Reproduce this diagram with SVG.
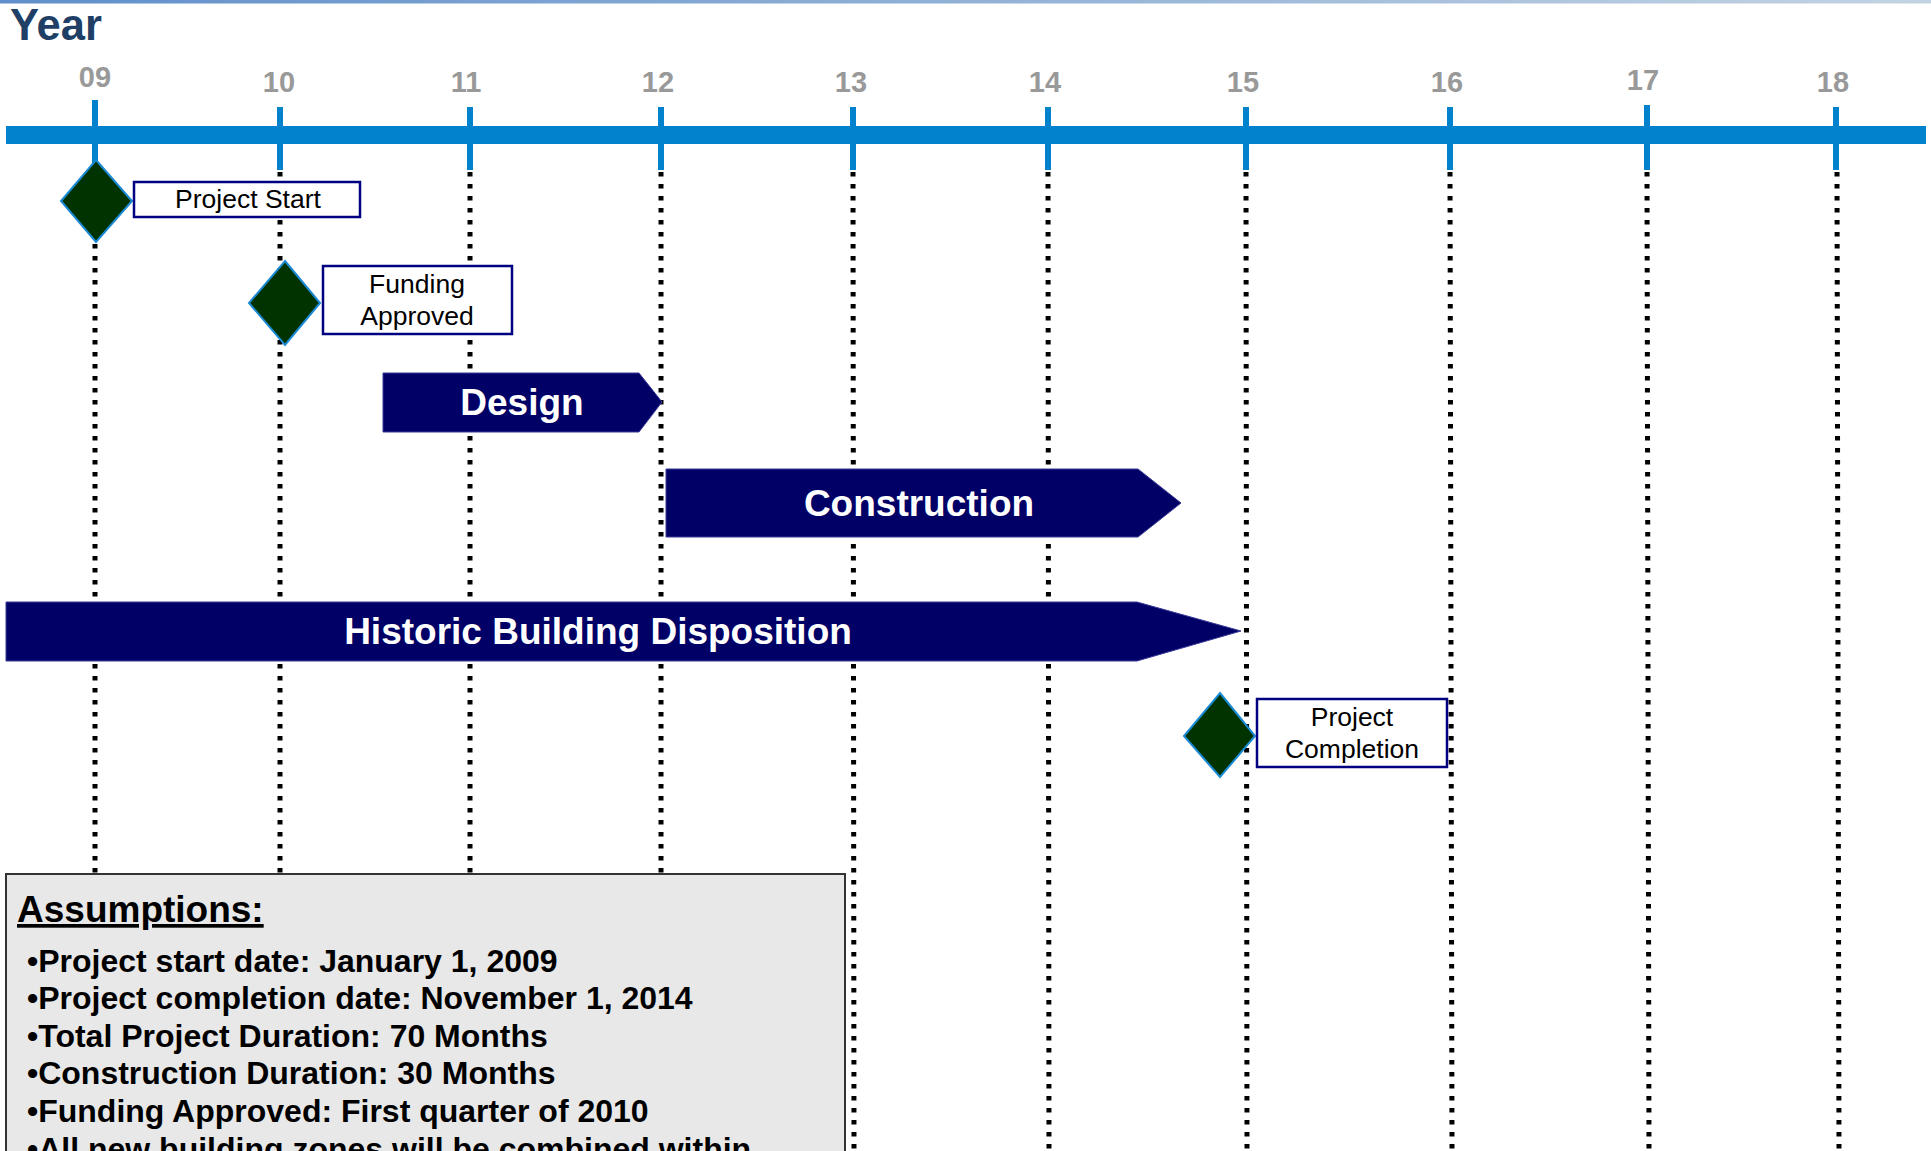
<svg xmlns="http://www.w3.org/2000/svg" width="1931" height="1151" viewBox="0 0 1931 1151">
<defs>
<linearGradient id="topbar" x1="0" y1="0" x2="1" y2="0">
<stop offset="0" stop-color="#5f8fca"/>
<stop offset="1" stop-color="#c3d3e3"/>
</linearGradient>
</defs>
<style>
.grid{stroke:#000;stroke-width:5;stroke-dasharray:4.5 7.5;fill:none}
.tick{stroke:#0281CD;stroke-width:6}
.yr{font-family:"Liberation Sans",Arial,sans-serif;font-weight:bold;font-size:29px;fill:#999999;text-anchor:middle}
.dia{fill:#003300;stroke:#1a8ad4;stroke-width:2}
.lbox{fill:#fff;stroke:#000080;stroke-width:2.5}
.ltxt{font-family:"Liberation Sans",Arial,sans-serif;font-size:26.5px;fill:#000;text-anchor:middle}
.arr{fill:#000066;stroke:#3a3a9a;stroke-width:1}
.atxt{font-family:"Liberation Sans",Arial,sans-serif;font-weight:bold;font-size:37px;fill:#fff;text-anchor:middle}
.asm{font-family:"Liberation Sans",Arial,sans-serif;font-weight:bold;font-size:32px;fill:#000}
</style>
<rect x="0" y="0" width="1931" height="3.5" fill="url(#topbar)"/>
<text x="10" y="40" font-family="Liberation Sans, Arial, sans-serif" font-weight="bold" font-size="43.5" fill="#1F3F66">Year</text>
<g id="gridlines">
<line class="grid" x1="95" y1="172" x2="95" y2="1151"/>
<line class="grid" x1="280" y1="172" x2="280" y2="1151"/>
<line class="grid" x1="470" y1="172" x2="470" y2="1151"/>
<line class="grid" x1="661" y1="172" x2="661" y2="1151"/>
<line class="grid" x1="853" y1="172" x2="854" y2="1151"/>
<line class="grid" x1="1048" y1="172" x2="1049" y2="1151"/>
<line class="grid" x1="1246" y1="172" x2="1247" y2="1151"/>
<line class="grid" x1="1450" y1="172" x2="1452" y2="1151"/>
<line class="grid" x1="1647" y1="172" x2="1649" y2="1151"/>
<line class="grid" x1="1837" y1="172" x2="1839" y2="1151"/>
</g>
<g id="axis">
<rect x="6" y="126" width="1920" height="18" fill="#0281CD"/>
<line class="tick" x1="95" y1="100" x2="95" y2="170"/>
<line class="tick" x1="280" y1="107" x2="280" y2="170"/>
<line class="tick" x1="470" y1="107" x2="470" y2="170"/>
<line class="tick" x1="661" y1="107" x2="661" y2="170"/>
<line class="tick" x1="853" y1="107" x2="853" y2="170"/>
<line class="tick" x1="1048" y1="107" x2="1048" y2="170"/>
<line class="tick" x1="1246" y1="107" x2="1246" y2="170"/>
<line class="tick" x1="1450" y1="107" x2="1450" y2="170"/>
<line class="tick" x1="1647" y1="105" x2="1647" y2="170"/>
<line class="tick" x1="1836" y1="107" x2="1836" y2="170"/>
<text class="yr" x="95" y="87">09</text>
<text class="yr" x="279" y="92">10</text>
<text class="yr" x="466" y="92">11</text>
<text class="yr" x="658" y="92">12</text>
<text class="yr" x="851" y="92">13</text>
<text class="yr" x="1045" y="92">14</text>
<text class="yr" x="1243" y="92">15</text>
<text class="yr" x="1447" y="92">16</text>
<text class="yr" x="1643" y="90">17</text>
<text class="yr" x="1833" y="92">18</text>
</g>
<g id="design">
<polygon class="arr" points="383,373 639,373 662,402 639,432 383,432"/>
<text class="atxt" x="522" y="415">Design</text>
</g>
<g id="construction">
<polygon class="arr" points="666,469 1138,469 1181,503 1138,537 666,537"/>
<text class="atxt" x="919" y="516">Construction</text>
</g>
<g id="historic">
<polygon class="arr" points="6,602 1137,602 1241,631 1137,661 6,661"/>
<text class="atxt" x="598" y="644">Historic Building Disposition</text>
</g>
<g id="project-start">
<polygon class="dia" points="96,160 132,201 96,242 61,201"/>
<rect class="lbox" x="134" y="182" width="226" height="35"/>
<text class="ltxt" x="248" y="208">Project Start</text>
</g>
<g id="funding-approved">
<polygon class="dia" points="285,261 320,303 285,345 249,303"/>
<rect class="lbox" x="323" y="266" width="189" height="68"/>
<text class="ltxt" x="417" y="293">Funding</text>
<text class="ltxt" x="417" y="325">Approved</text>
</g>
<g id="project-completion">
<polygon class="dia" points="1220,693 1255,736 1220,777 1184,736"/>
<rect class="lbox" x="1257" y="699" width="190" height="68"/>
<text class="ltxt" x="1352" y="726">Project</text>
<text class="ltxt" x="1352" y="758">Completion</text>
</g>
<g id="assumptions">
<rect x="6" y="874" width="839" height="290" fill="#E8E8E8" stroke="#333" stroke-width="2"/>
<text x="17" y="922" font-family="Liberation Sans, Arial, sans-serif" font-weight="bold" font-size="37" fill="#000" text-decoration="underline">Assumptions:</text>
<text class="asm" x="27" y="972">•Project start date: January 1, 2009</text>
<text class="asm" x="27" y="1009">•Project completion date: November 1, 2014</text>
<text class="asm" x="27" y="1047">•Total Project Duration: 70 Months</text>
<text class="asm" x="27" y="1084">•Construction Duration: 30 Months</text>
<text class="asm" x="27" y="1122">•Funding Approved: First quarter of 2010</text>
<text class="asm" x="27" y="1160">•All new building zones will be combined within</text>
</g>
</svg>
